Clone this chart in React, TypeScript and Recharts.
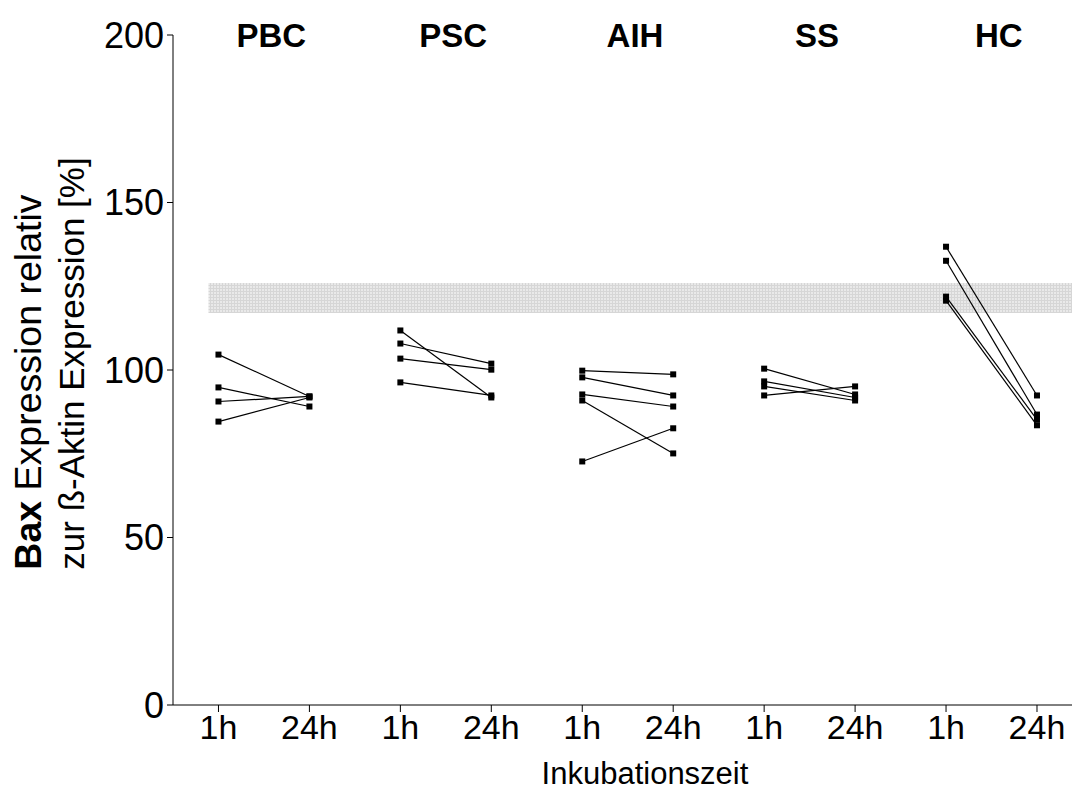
import { ComposedChart, Scatter, XAxis, YAxis, ReferenceArea } from 'recharts'

const FONT = "'Liberation Sans', Arial, sans-serif"

// categories and tick labels
const groups = ['PBC', 'PSC', 'AIH', 'SS', 'HC']
const timepoints = ['1h', '24h']
const yTicks = [0, 50, 100, 150, 200]

// Bax expression per subject, 1h -> 24h
const pbc1h = [104.6, 94.8, 90.6, 84.6]
const pbc24h = [92.1, 89.1, 92.1, 91.8]
const psc1h = [111.8, 107.9, 103.4, 96.3]
const psc24h = [91.8, 101.9, 100.1, 92.4]
const aih1h = [99.8, 97.8, 92.7, 90.9, 72.7]
const aih24h = [98.7, 92.4, 89.1, 75.1, 82.6]
const ss1h = [100.4, 96.6, 95.1, 92.4]
const ss24h = [92.7, 91.8, 90.9, 95.1]
const hc1h = [136.8, 132.6, 121.9, 120.7]
const hc24h = [92.4, 86.7, 85.2, 83.5]

// grey reference band
const bandLow = 117
const bandHigh = 126

const series = [
  [pbc1h, pbc24h],
  [psc1h, psc24h],
  [aih1h, aih24h],
  [ss1h, ss24h],
  [hc1h, hc24h],
]

// one little 2-point line per subject
const subjects = series.flatMap(([a, b], g) =>
  a.map((v, i) => [
    { x: g * 2, y: v },
    { x: g * 2 + 1, y: b[i] },
  ])
)

const groupLabels = groups.map((name, i) => ({ x: i * 2 + 0.58, y: 200, name }))

const Square = (props: any) => (
  <rect x={props.cx - 3} y={props.cy - 3} width={6} height={6} fill='#000' />
)

const GroupText = (props: any) => (
  <text
    x={props.cx}
    y={props.cy}
    textAnchor='middle'
    dominantBaseline='central'
    fontFamily={FONT}
    fontSize={33}
    fontWeight='bold'
    fill='#000'
  >
    {props.payload.name}
  </text>
)

const YLabel = (props: any) => {
  const vb = props.viewBox
  const y0 = vb.y + vb.height * 0.798
  return (
    <g fontFamily={FONT} fill='#000'>
      <text x={28} y={y0} fontSize={37.5} transform={`rotate(-90 28 ${y0})`} textAnchor='start' dominantBaseline='central'>
        <tspan fontWeight='bold'>Bax</tspan> Expression relativ
      </text>
      <text x={72} y={y0} fontSize={35} transform={`rotate(-90 72 ${y0})`} textAnchor='start' dominantBaseline='central'>
        zur ß-Aktin Expression [%]
      </text>
    </g>
  )
}

const XLabel = (props: any) => {
  const vb = props.viewBox
  return (
    <text
      x={vb.x + vb.width * 0.525}
      y={vb.y + 68}
      textAnchor='middle'
      dominantBaseline='central'
      fontFamily={FONT}
      fontSize={31}
      fill='#000'
    >
      Inkubationszeit
    </text>
  )
}

export default function App() {
  return (
    <div style={{ position: 'absolute', left: 0, top: 0, background: '#fff' }}>
      <ComposedChart width={1072} height={790} margin={{ top: 35, right: 0, bottom: 0, left: 0 }}>
        <defs>
          <pattern id='bandGrid' width='3' height='3' patternUnits='userSpaceOnUse'>
            <rect width='3' height='3' fill='#e9e9e9' />
            <rect width='3' height='1' fill='#d6d6d6' />
            <rect width='1' height='3' fill='#d6d6d6' />
          </pattern>
        </defs>
        <XAxis
          type='number'
          dataKey='x'
          domain={[-0.5, 9.385]}
          ticks={[0, 1, 2, 3, 4, 5, 6, 7, 8, 9]}
          tickFormatter={(v) => timepoints[v % 2]}
          interval={0}
          height={85}
          stroke='#000'
          tickSize={7}
          tickMargin={3}
          tick={{ fontSize: 34, fill: '#000', fontFamily: FONT }}
          label={<XLabel />}
        />
        <YAxis
          type='number'
          dataKey='y'
          domain={[0, 200]}
          ticks={yTicks}
          width={173}
          stroke='#000'
          tickSize={6}
          tickMargin={3}
          tick={{ fontSize: 36, fill: '#000', fontFamily: FONT }}
          label={<YLabel />}
        />
        <ReferenceArea x1={-0.11} x2={9.385} y1={bandLow} y2={bandHigh} fill='url(#bandGrid)' fillOpacity={1} stroke='none' />
        {subjects.map((pts, i) => (
          <Scatter
            key={i}
            data={pts}
            line={{ stroke: '#000', strokeWidth: 1.2 }}
            shape={Square}
            isAnimationActive={false}
          />
        ))}
        <Scatter data={groupLabels} shape={GroupText} isAnimationActive={false} />
      </ComposedChart>
    </div>
  )
}
